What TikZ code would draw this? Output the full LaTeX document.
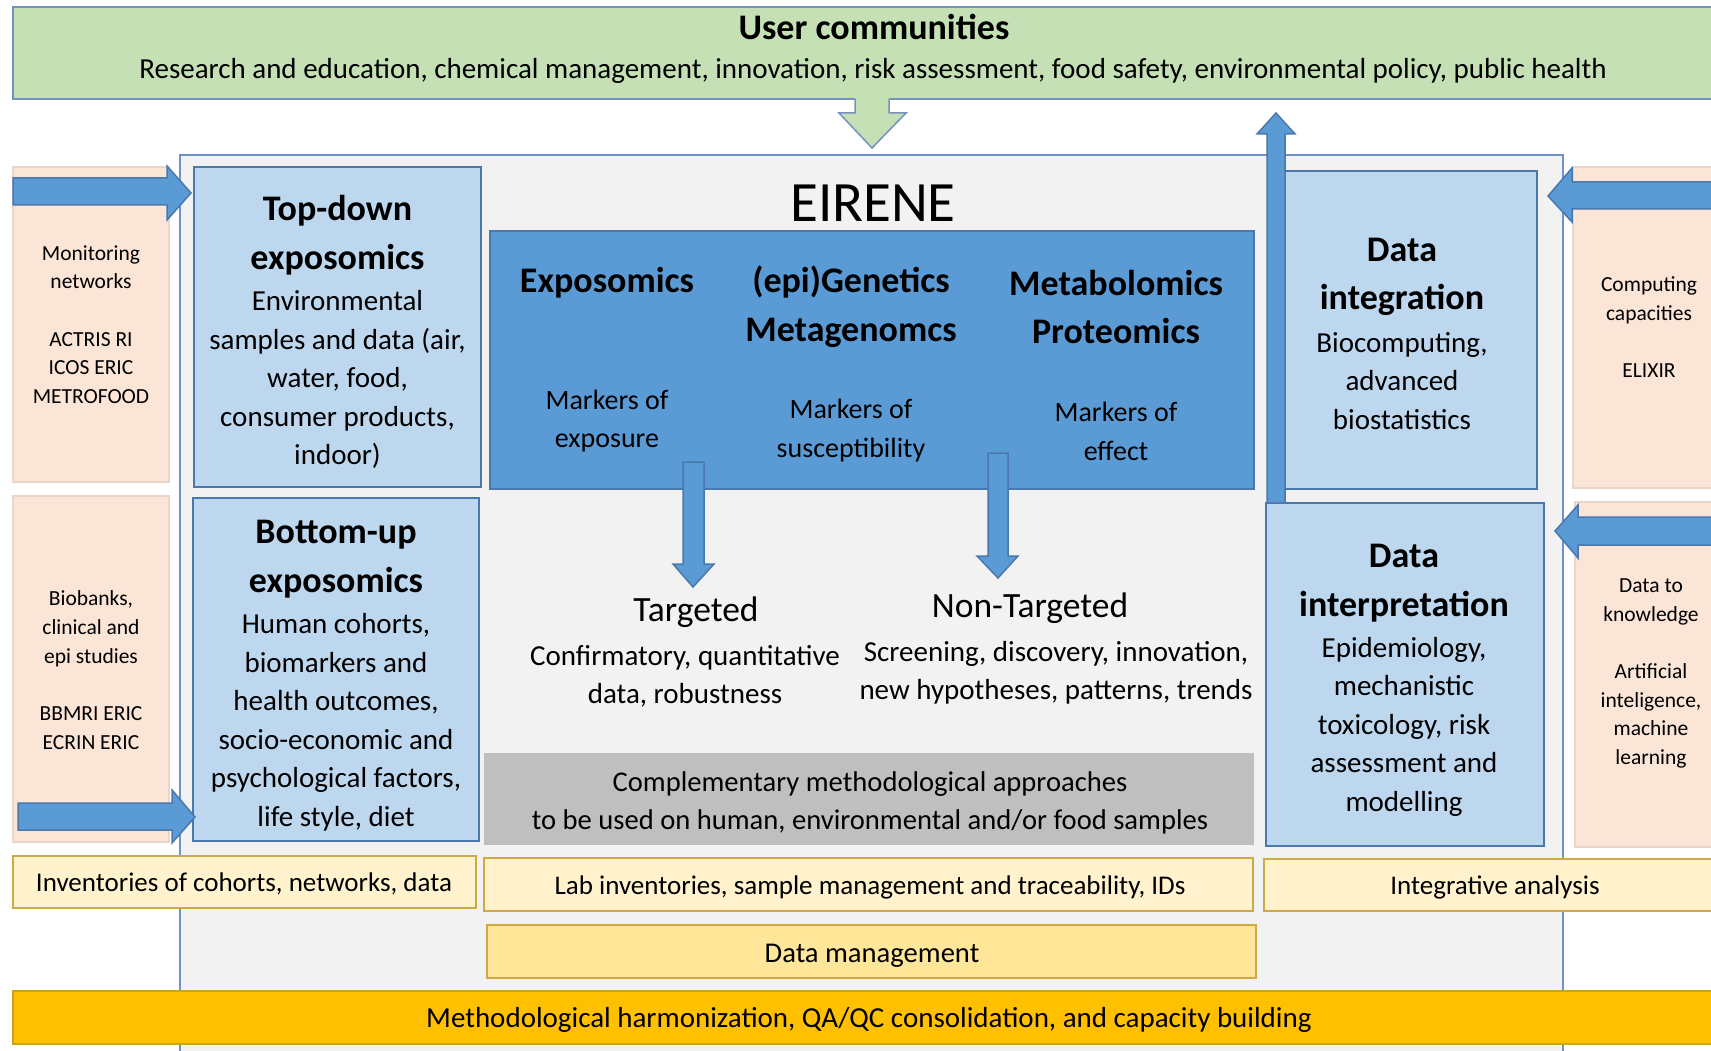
\documentclass[tikz,border=0pt]{standalone}
\usepackage{fontspec}
\setmainfont{Carlito}
\definecolor{greenfill}{HTML}{C5E0B4}
\definecolor{greenline}{HTML}{7592BC}
\definecolor{outerfill}{HTML}{F2F2F2}
\definecolor{outerline}{HTML}{6F93C8}
\definecolor{lbfill}{HTML}{BDD7EE}
\definecolor{bline}{HTML}{4A78AC}
\definecolor{dbfill}{HTML}{5B9BD5}
\definecolor{peachfill}{HTML}{FBE5D6}
\definecolor{peachline}{HTML}{E8D6CA}
\definecolor{grayfill}{HTML}{BFBFBF}
\definecolor{lyfill}{HTML}{FFF2CC}
\definecolor{lyline}{HTML}{CFA943}
\definecolor{dmfill}{HTML}{FFE699}
\definecolor{orfill}{HTML}{FFC000}
\definecolor{orline}{HTML}{C9A227}
\newcommand\fhead{\fontsize{36}{48.5}\selectfont\bfseries}
\newcommand\fbody{\fontsize{29}{38.5}\selectfont}
\newcommand\fsmall{\fontsize{21.5}{28.7}\selectfont}
\newcommand\fmark{\fontsize{28}{38.5}\selectfont}
\newcommand\fbot{\fontsize{27}{33}\selectfont}
% box node: style, x1, y1, x2, y2, name
\newcommand\boxnode[6]{\node[#1, anchor=north west, minimum width={#4-#2}, minimum height={#5-#3}] (#6) at (#2,#3) {};}
\begin{document}
\begin{tikzpicture}[x=1pt,y=-1pt,
  every node/.style={inner sep=0pt, outer sep=0pt},
  bx/.style={draw, rectangle, line width=1.5pt},
  banner/.style={bx, fill=greenfill, draw=greenline},
  outer/.style={bx, fill=outerfill, draw=outerline, line width=1.2pt},
  lbbox/.style={bx, fill=lbfill, draw=bline},
  dbbox/.style={bx, fill=dbfill, draw=bline},
  peach/.style={bx, fill=peachfill, draw=peachline},
  graybox/.style={rectangle, fill=grayfill},
  lybox/.style={bx, fill=lyfill, draw=lyline},
  dmbox/.style={bx, fill=dmfill, draw=lyline},
  orbox/.style={bx, fill=orfill, draw=orline},
  barrow/.style={fill=dbfill, draw=bline, line width=1.5pt, line join=miter},
  txt/.style={align=center, text=black}
]
\useasboundingbox (0,0) rectangle (1711,1051);
\fill[white] (0,0) rectangle (1711,1051);

% main boxes
\boxnode{outer}{180}{155}{1563}{1070}{eirene}
\boxnode{banner}{13}{7}{1730}{99}{users}
\boxnode{peach}{13}{167}{169}{482}{monit}
\boxnode{peach}{13}{496}{169}{842}{biob}
\boxnode{peach}{1573}{167}{1730}{488}{compu}
\boxnode{peach}{1575}{502}{1730}{847}{dtok}
\boxnode{lbbox}{194}{167}{481}{487}{topdown}
\boxnode{lbbox}{193}{498}{479}{841}{bottomup}
\boxnode{dbbox}{490}{231}{1254}{489}{omics}
\boxnode{graybox}{484}{753}{1254}{845}{compl}
\boxnode{lbbox}{1285}{171}{1537}{489}{dint}
\boxnode{lbbox}{1266}{503}{1544}{846}{dinterp}
\boxnode{lybox}{13}{856}{476}{908}{inv}
\boxnode{lybox}{484}{858}{1253}{911}{lab}
\boxnode{lybox}{1264}{859}{1730}{911}{integ}
\boxnode{dmbox}{487}{925}{1256}{978}{dm}
\boxnode{orbox}{13}{991}{1730}{1044}{meth}

% green arrow from user communities down to EIRENE
\fill[greenfill] (855,97) -- (855,113) -- (839,113) -- (872,148) -- (906,113) -- (889,113) -- (889,97) -- cycle;
\draw[greenline, line width=1.5pt, line join=miter] (855,99) -- (855,113) -- (839,113) -- (872,148) -- (906,113) -- (889,113) -- (889,99);

% blue block arrows
\draw[barrow] (13,178) -- (167,178) -- (167,166) -- (191,193) -- (167,220) -- (167,205) -- (13,205) -- cycle;
\draw[barrow] (18,803) -- (172,803) -- (172,790) -- (195,817) -- (172,843) -- (172,830) -- (18,830) -- cycle;
\draw[barrow] (1720,182) -- (1572,182) -- (1572,168) -- (1548,196) -- (1572,222) -- (1572,209) -- (1720,209) -- cycle;
\draw[barrow] (1720,517) -- (1578,517) -- (1578,505) -- (1555,531) -- (1578,558) -- (1578,545) -- (1720,545) -- cycle;
\draw[barrow] (1267,503) -- (1267,134) -- (1257,134) -- (1276,113) -- (1295,134) -- (1285,134) -- (1285,503) -- cycle;
\draw[barrow] (683,462) -- (704,462) -- (704,564) -- (714,564) -- (693,587) -- (673,564) -- (683,564) -- cycle;
\draw[barrow] (988,453) -- (1008,453) -- (1008,556) -- (1018,556) -- (998,578) -- (977,556) -- (988,556) -- cycle;

% texts
\node[txt, font=\fhead] (tuser) at (874,27) {User communities};
\node[txt, font=\fbody] (tuser2) at (873,71) {Research and education, chemical management, innovation, risk assessment, food safety, environmental policy, public health};

\node[txt, font=\fontsize{57}{60}\selectfont] (teirene) at (873,203) {EIRENE};

\node[txt, font=\fsmall] (tmonit) at (91,324.5) {Monitoring\\networks\\[0pt]~\\ACTRIS RI\\ICOS ERIC\\METROFOOD};
\node[txt, font=\fsmall] (tbiob) at (91,670) {Biobanks,\\clinical and\\epi studies\\[0pt]~\\BBMRI ERIC\\ECRIN ERIC};
\node[txt, font=\fsmall] (tcompu) at (1649,327.5) {Computing\\capacities\\[0pt]~\\ELIXIR};
\node[txt, font=\fsmall] (tdtok) at (1651,673.5) {Data to\\knowledge\\[0pt]~\\Artificial\\inteligence,\\machine\\learning};

\node[txt, font=\fhead] (htd) at (337.5,235) {Top-down\\exposomics};
\node[txt, font=\fbody] (btd) at (337.5,379.5) {Environmental\\samples and data (air,\\water, food,\\consumer products,\\indoor)};
\node[txt, font=\fhead] (hbu) at (336,559) {Bottom-up\\exposomics};
\node[txt, font=\fbody] (bbu) at (336,722.5) {Human cohorts,\\biomarkers and\\health outcomes,\\socio-economic and\\psychological factors,\\life style, diet};

\node[txt, font=\fhead] (hexp) at (607,282.5) {Exposomics};
\node[txt, font=\fhead] (hgen) at (851,306.5) {(epi)Genetics\\Metagenomcs};
\node[txt, font=\fhead] (hmet) at (1116,307) {Metabolomics\\Proteomics};
\node[txt, font=\fmark] (mexp) at (607,421) {Markers of\\exposure};
\node[txt, font=\fmark] (mgen) at (851,430.5) {Markers of\\susceptibility};
\node[txt, font=\fmark] (mmet) at (1116,431.5) {Markers of\\effect};

\node[txt, font=\fontsize{35.5}{40}\selectfont] (ttarg) at (696,612) {Targeted};
\node[txt, font=\fontsize{29}{38}\selectfont] (btarg) at (685,676.5) {Confirmatory, quantitative\\data, robustness};
\node[txt, font=\fontsize{35.5}{40}\selectfont] (tntarg) at (1030,608.5) {Non-Targeted};
\node[txt, font=\fontsize{29}{38}\selectfont] (bntarg) at (1056,673) {Screening, discovery, innovation,\\new hypotheses, patterns, trends};

\node[txt, font=\fontsize{28.6}{38}\selectfont] (tcompl) at (870,803) {Complementary methodological approaches\\to be used on human, environmental and/or food samples};

\node[txt, font=\fhead] (hdint) at (1402,277) {Data\\integration};
\node[txt, font=\fbody] (bdint) at (1402,381) {Biocomputing,\\advanced\\biostatistics};
\node[txt, font=\fhead] (hdinterp) at (1404,583) {Data\\interpretation};
\node[txt, font=\fbody] (bdinterp) at (1404,726.5) {Epidemiology,\\mechanistic\\toxicology, risk\\assessment and\\modelling};

\node[txt, font=\fbot] (tinv) at (244,884) {Inventories of cohorts, networks, data};
\node[txt, font=\fbot] (tlab) at (870,887) {Lab inventories, sample management and traceability, IDs};
\node[txt, font=\fbot] (tinteg) at (1495,887) {Integrative analysis};
\node[txt, font=\fontsize{28.6}{33}\selectfont] (tdm) at (872,956) {Data management};
\node[txt, font=\fontsize{29}{33}\selectfont] (tmeth) at (869,1020) {Methodological harmonization, QA/QC consolidation, and capacity building};
\end{tikzpicture}
\end{document}
